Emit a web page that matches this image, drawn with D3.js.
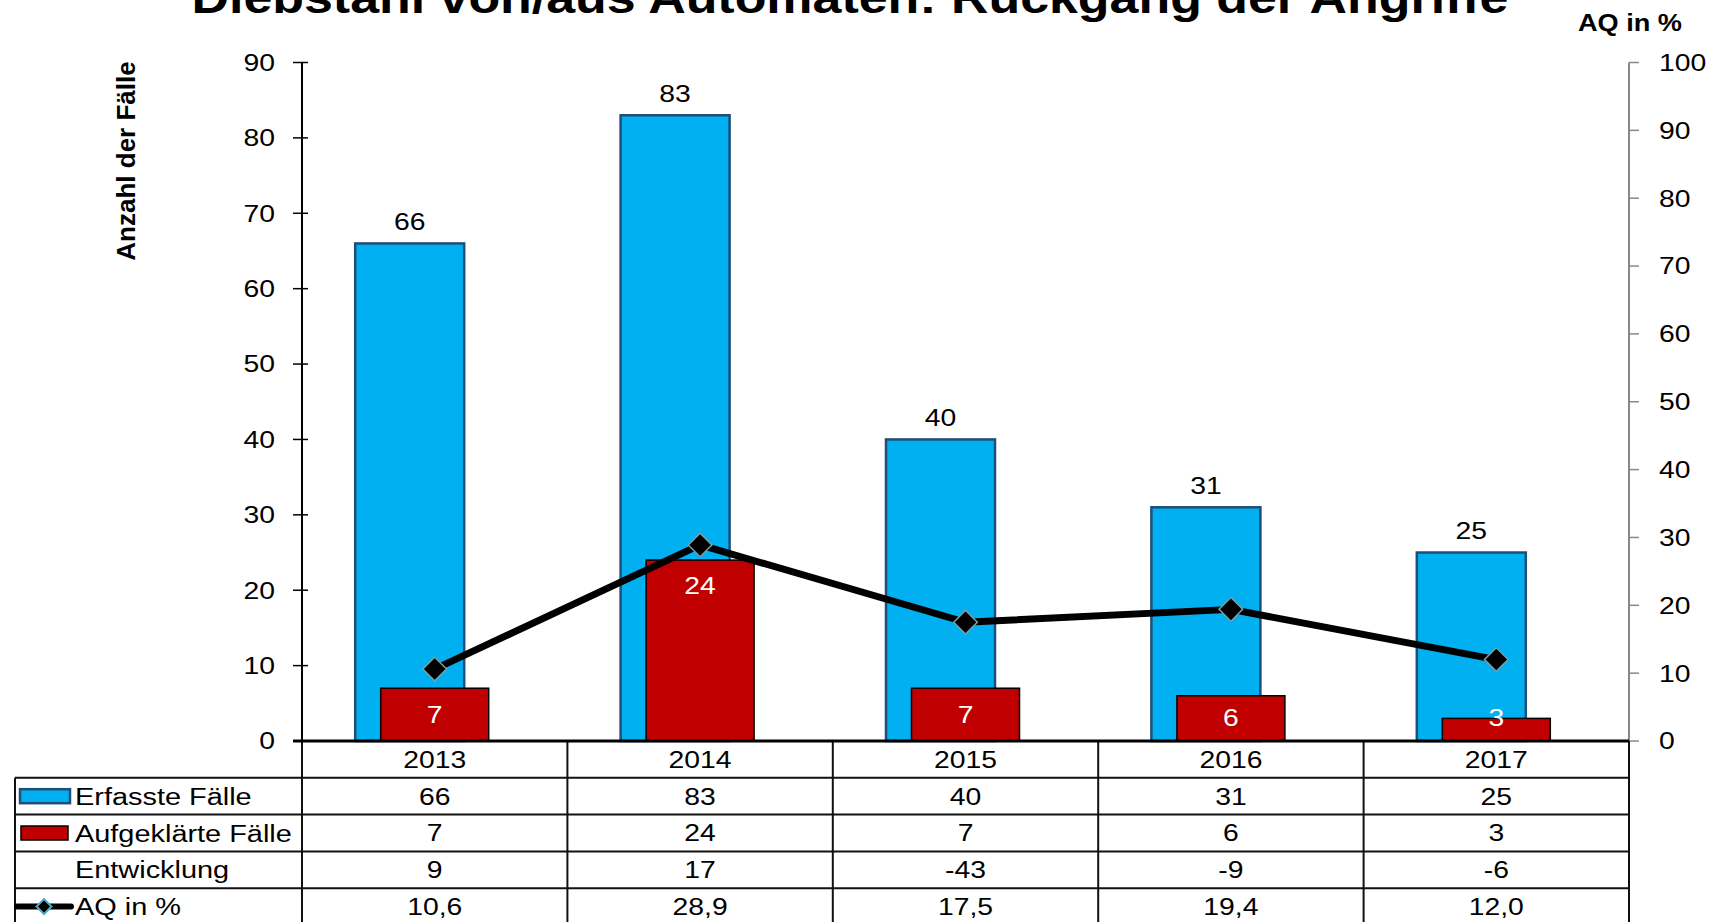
<!DOCTYPE html>
<html lang="de">
<head>
<meta charset="utf-8">
<script src="https://cdn.jsdelivr.net/npm/d3@7/dist/d3.min.js"></script>
<style type="text/css">
body {
	margin: 0;
	background: #fff;
	font-family: "Liberation Sans", Arial, sans-serif;
}
svg text {
	font-family: "Liberation Sans", Arial, sans-serif;
}
</style>
</head>
<body>
<script type="text/javascript">

// chart data
var years = ["2013", "2014", "2015", "2016", "2017"];
var erfasst = [66, 83, 40, 31, 25];
var aufgeklaert = [7, 24, 7, 6, 3];
var entwicklung = [9, 17, -43, -9, -6];
var aq = [10.6, 28.9, 17.5, 19.4, 12.0];
var leftTicks = [0, 10, 20, 30, 40, 50, 60, 70, 80, 90];
var rightTicks = [0, 10, 20, 30, 40, 50, 60, 70, 80, 90, 100];
var rowLabels = ["Erfasste Fälle", "Aufgeklärte Fälle", "Entwicklung", "AQ in %"];

var width = 1718;
var height = 922;

var plotLeft = 302, plotRight = 1629;
var plotTop = 62.5, plotBottom = 741;
var rowH = 36.8;
var sx = 1.18;   // text in the original is stretched horizontally

var svg = d3.select("body")
			.append("svg")
			.attr("width", width)
			.attr("height", height);

var x = d3.scaleBand()
		  .domain(years)
		  .range([plotLeft, plotRight])
		  .padding(0);

var yLeft = d3.scaleLinear()
			  .domain([0, 90])
			  .range([plotBottom, plotTop]);

var yRight = d3.scaleLinear()
			   .domain([0, 100])
			   .range([plotBottom, plotTop]);

function fmt(v) { return d3.format(".1f")(v).replace(".", ","); }

// helper for horizontally stretched text
function label(g, tx, ty, txt, anchor, size, weight, fill) {
	return g.append("text")
			.attr("transform", "translate(" + tx + "," + ty + ") scale(" + sx + ",1)")
			.attr("text-anchor", anchor)
			.attr("dy", ".35em")
			.style("font-size", size + "px")
			.style("font-weight", weight || "normal")
			.style("fill", fill || "#000")
			.text(txt);
}

// title (cut off at top like the original)
svg.append("text")
	.attr("transform", "translate(850,13) scale(" + sx + ",1)")
	.attr("text-anchor", "middle")
	.style("font-size", "44px")
	.style("font-weight", "bold")
	.text("Diebstahl von/aus Automaten: Rückgang der Angriffe");

// axis titles
svg.append("text")
	.attr("transform", "translate(135," + 161 + ") rotate(-90)")
	.attr("text-anchor", "middle")
	.style("font-size", "26px")
	.style("font-weight", "bold")
	.text("Anzahl der Fälle");

svg.append("text")
	.attr("transform", "translate(1630,31) scale(" + sx + ",1)")
	.attr("text-anchor", "middle")
	.style("font-size", "23px")
	.style("font-weight", "bold")
	.text("AQ in %");

// blue bars
var bandW = x.bandwidth();
var blueW = 109, redW = 108;

svg.selectAll("rect.erfasst")
	.data(erfasst)
	.enter()
	.append("rect")
	.attr("class", "erfasst")
	.attr("x", function(d, i) { return x(years[i]) + bandW / 2 - 25 - blueW / 2; })
	.attr("y", function(d) { return yLeft(d); })
	.attr("width", blueW)
	.attr("height", function(d) { return plotBottom - yLeft(d); })
	.style("fill", "#00B0F0")
	.style("stroke", "#1F4E79")
	.style("stroke-width", 2.5);

erfasst.forEach(function(d, i) {
	label(svg, x(years[i]) + bandW / 2 - 25, yLeft(d) - 22, d, "middle", 24);
});

// red bars
svg.selectAll("rect.aufgek")
	.data(aufgeklaert)
	.enter()
	.append("rect")
	.attr("class", "aufgek")
	.attr("x", function(d, i) { return x(years[i]) + bandW / 2 - redW / 2; })
	.attr("y", function(d) { return yLeft(d); })
	.attr("width", redW)
	.attr("height", function(d) { return plotBottom - yLeft(d); })
	.style("fill", "#C00000")
	.style("stroke", "#000")
	.style("stroke-width", 1.5);

aufgeklaert.forEach(function(d, i) {
	var ly = Math.min(yLeft(d) + 26, plotBottom - 23);
	label(svg, x(years[i]) + bandW / 2, ly, d, "middle", 24, "normal", "#fff");
});

// left axis
var axL = svg.append("g");
axL.append("line")
	.attr("x1", plotLeft).attr("x2", plotLeft)
	.attr("y1", plotTop).attr("y2", plotBottom)
	.style("stroke", "#000").style("stroke-width", 2);
leftTicks.forEach(function(t) {
	axL.append("line")
		.attr("x1", plotLeft - 9).attr("x2", plotLeft + 6)
		.attr("y1", yLeft(t)).attr("y2", yLeft(t))
		.style("stroke", "#000").style("stroke-width", 1.5);
	label(axL, plotLeft - 27, yLeft(t), t, "end", 24);
});

// right axis
var axR = svg.append("g");
axR.append("line")
	.attr("x1", plotRight).attr("x2", plotRight)
	.attr("y1", plotTop).attr("y2", plotBottom)
	.style("stroke", "#888").style("stroke-width", 2);
rightTicks.forEach(function(t) {
	axR.append("line")
		.attr("x1", plotRight).attr("x2", plotRight + 10)
		.attr("y1", yRight(t)).attr("y2", yRight(t))
		.style("stroke", "#888").style("stroke-width", 1.5);
	label(axR, plotRight + 30, yRight(t), t, "start", 24);
});

// AQ line
var line = d3.line()
			 .x(function(d, i) { return x(years[i]) + bandW / 2; })
			 .y(function(d) { return yRight(d); });

svg.append("path")
	.datum(aq)
	.attr("d", line)
	.style("fill", "none")
	.style("stroke", "#000")
	.style("stroke-width", 7)
	.style("stroke-linejoin", "round");

var diamond = d3.symbol().type(d3.symbolSquare).size(280);

svg.selectAll("path.marker")
	.data(aq)
	.enter()
	.append("path")
	.attr("class", "marker")
	.attr("d", diamond)
	.attr("transform", function(d, i) {
		return "translate(" + (x(years[i]) + bandW / 2) + "," + yRight(d) + ") rotate(45)";
	})
	.style("fill", "#000")
	.style("stroke", "#7a9ea8")
	.style("stroke-width", 1.5);

// data table
var tbl = svg.append("g");
var tableLeft = 15;
var rowY = [plotBottom, plotBottom + rowH, plotBottom + 2 * rowH, plotBottom + 3 * rowH, plotBottom + 4 * rowH, plotBottom + 5 * rowH];

// horizontal lines
rowY.slice(1).forEach(function(yy) {
	tbl.append("line")
		.attr("x1", tableLeft).attr("x2", plotRight)
		.attr("y1", yy).attr("y2", yy)
		.style("stroke", "#111").style("stroke-width", 2);
});
// vertical lines
years.forEach(function(yr) {
	tbl.append("line")
		.attr("x1", x(yr)).attr("x2", x(yr))
		.attr("y1", plotBottom).attr("y2", height)
		.style("stroke", "#111").style("stroke-width", 2);
});
tbl.append("line")
	.attr("x1", plotRight).attr("x2", plotRight)
	.attr("y1", plotBottom).attr("y2", height)
	.style("stroke", "#111").style("stroke-width", 2);
tbl.append("line")
	.attr("x1", tableLeft).attr("x2", tableLeft)
	.attr("y1", rowY[1]).attr("y2", height)
	.style("stroke", "#111").style("stroke-width", 2);

// bottom axis line (on top of table)
svg.append("line")
	.attr("x1", plotLeft - 9).attr("x2", plotRight)
	.attr("y1", plotBottom).attr("y2", plotBottom)
	.style("stroke", "#000").style("stroke-width", 3);

var rows = [years, erfasst, aufgeklaert, entwicklung, aq.map(fmt)];
rows.forEach(function(r, ri) {
	r.forEach(function(v, i) {
		label(tbl, x(years[i]) + bandW / 2, rowY[ri] + rowH / 2, v, "middle", 24);
	});
});

rowLabels.forEach(function(t, i) {
	label(tbl, 75, rowY[i + 1] + rowH / 2, t, "start", 24.5);
});

// legend keys in the table
var k1 = rowY[1] + rowH / 2;
tbl.append("rect")
	.attr("x", 20).attr("y", k1 - 7).attr("width", 50).attr("height", 14)
	.style("fill", "#00B0F0").style("stroke", "#1F4E79").style("stroke-width", 2.5);
var k2 = rowY[2] + rowH / 2;
tbl.append("rect")
	.attr("x", 21).attr("y", k2 - 7).attr("width", 47).attr("height", 14)
	.style("fill", "#C00000").style("stroke", "#000").style("stroke-width", 1.5);
var k4 = rowY[4] + rowH / 2;
tbl.append("line")
	.attr("x1", 17).attr("x2", 71).attr("y1", k4).attr("y2", k4)
	.style("stroke", "#000").style("stroke-width", 6).style("stroke-linecap", "round");
tbl.append("path")
	.attr("d", d3.symbol().type(d3.symbolSquare).size(110))
	.attr("transform", "translate(44," + k4 + ") rotate(45)")
	.style("fill", "#000")
	.style("stroke", "#4BACC6")
	.style("stroke-width", 2);

</script>
</body>
</html>
